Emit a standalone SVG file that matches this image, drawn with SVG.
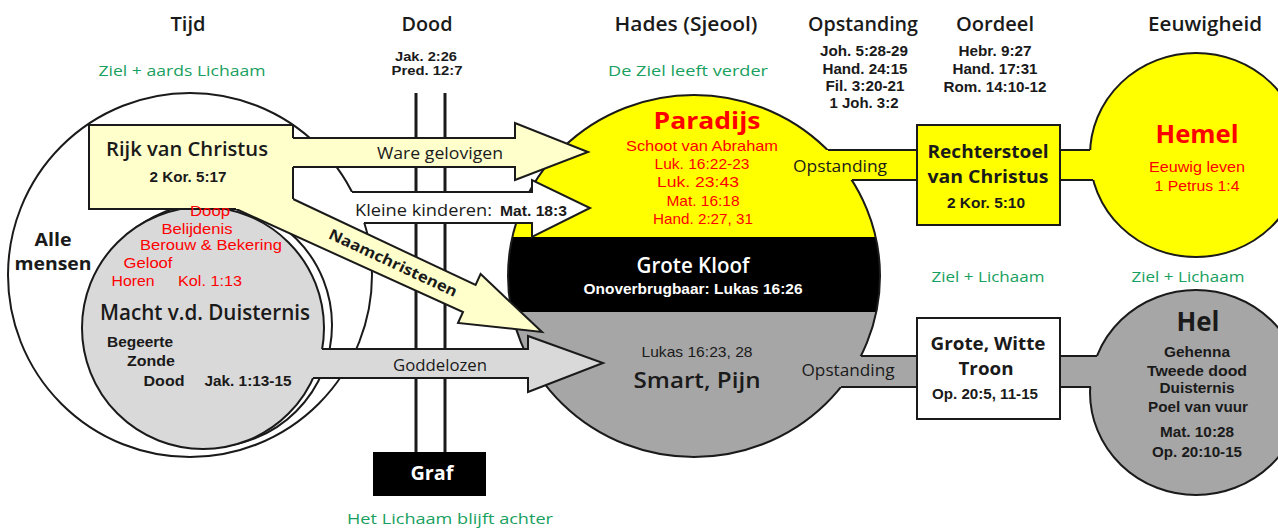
<svg xmlns="http://www.w3.org/2000/svg" width="1278" height="529" viewBox="0 0 1278 529">
<defs>
<style>
text{text-anchor:middle;fill:#1a1a1a}
.c{font-family:"Open Sans","Noto Sans",sans-serif}
.a{font-family:"Liberation Sans",Arial,sans-serif}
.b{font-weight:bold}
.sb{font-weight:600}
.r{fill:#ff0000}
.g{fill:#17a05e}
.w{fill:#ffffff}
.ln{fill:none;stroke:#1a1a1a;stroke-width:2}
.ol{stroke:#1a1a1a;stroke-width:2}
.st{text-anchor:start}
</style>
<clipPath id="hc"><ellipse cx="694" cy="276" rx="186" ry="181"/></clipPath>
</defs>
<rect width="1278" height="529" fill="#ffffff"/>

<g id="headers">
<text class="c sb" x="188" y="31" font-size="20" textLength="35" lengthAdjust="spacingAndGlyphs">Tijd</text>
<text class="c sb" x="427" y="31" font-size="20" textLength="51" lengthAdjust="spacingAndGlyphs">Dood</text>
<text class="c sb" x="686" y="31" font-size="20" textLength="143" lengthAdjust="spacingAndGlyphs">Hades (Sjeool)</text>
<text class="c sb" x="863" y="31" font-size="20" textLength="110" lengthAdjust="spacingAndGlyphs">Opstanding</text>
<text class="c sb" x="995" y="31" font-size="20" textLength="78" lengthAdjust="spacingAndGlyphs">Oordeel</text>
<text class="c sb" x="1205" y="31" font-size="20" textLength="114" lengthAdjust="spacingAndGlyphs">Eeuwigheid</text>
<text class="c g" x="182" y="76" font-size="15" textLength="167" lengthAdjust="spacingAndGlyphs">Ziel + aards Lichaam</text>
<text class="c g" x="688" y="76" font-size="15" textLength="160" lengthAdjust="spacingAndGlyphs">De Ziel leeft verder</text>
<text class="c g" x="988" y="282" font-size="15" textLength="113" lengthAdjust="spacingAndGlyphs">Ziel + Lichaam</text>
<text class="c g" x="1188" y="282" font-size="15" textLength="113" lengthAdjust="spacingAndGlyphs">Ziel + Lichaam</text>
<text class="c g" x="450" y="524" font-size="15" textLength="206" lengthAdjust="spacingAndGlyphs">Het Lichaam blijft achter</text>
<text class="a b" x="426" y="61" font-size="12" textLength="62" lengthAdjust="spacingAndGlyphs">Jak. 2:26</text>
<text class="a b" x="427" y="75" font-size="12" textLength="71" lengthAdjust="spacingAndGlyphs">Pred. 12:7</text>
<text class="a b" x="864" y="56" font-size="14" textLength="88" lengthAdjust="spacingAndGlyphs">Joh. 5:28-29</text>
<text class="a b" x="865" y="74" font-size="14" textLength="85" lengthAdjust="spacingAndGlyphs">Hand. 24:15</text>
<text class="a b" x="865" y="91" font-size="14" textLength="79" lengthAdjust="spacingAndGlyphs">Fil. 3:20-21</text>
<text class="a b" x="864" y="108" font-size="14" textLength="69" lengthAdjust="spacingAndGlyphs">1 Joh. 3:2</text>
<text class="a b" x="995" y="56" font-size="14" textLength="73" lengthAdjust="spacingAndGlyphs">Hebr. 9:27</text>
<text class="a b" x="995" y="74" font-size="14" textLength="85" lengthAdjust="spacingAndGlyphs">Hand. 17:31</text>
<text class="a b" x="995" y="92" font-size="14" textLength="103" lengthAdjust="spacingAndGlyphs">Rom. 14:10-12</text>
</g>

<g id="alle-mensen">
<circle cx="190" cy="275" r="182" fill="#ffffff" class="ol"/>
<text class="c b" x="53" y="246" font-size="18" textLength="37" lengthAdjust="spacingAndGlyphs">Alle</text>
<text class="c b" x="53" y="270" font-size="18" textLength="77" lengthAdjust="spacingAndGlyphs">mensen</text>
</g>

<g id="dood">
<line x1="416" y1="93" x2="416" y2="452" stroke="#1a1a1a" stroke-width="3"/>
<line x1="445" y1="93" x2="445" y2="452" stroke="#1a1a1a" stroke-width="3"/>
</g>

<g id="hades">
<g clip-path="url(#hc)">
<rect x="500" y="90" width="400" height="147" fill="#ffff00"/>
<rect x="500" y="237" width="400" height="75" fill="#000000"/>
<rect x="500" y="312" width="400" height="150" fill="#a6a6a6"/>
</g>
<ellipse cx="694" cy="276" rx="186" ry="181" fill="none" class="ol"/>
<text class="c b r" x="707" y="129" font-size="24" textLength="107" lengthAdjust="spacingAndGlyphs">Paradijs</text>
<text class="a r" x="702" y="151" font-size="15" textLength="152" lengthAdjust="spacingAndGlyphs">Schoot van Abraham</text>
<text class="a r" x="702" y="169" font-size="15" textLength="95" lengthAdjust="spacingAndGlyphs">Luk. 16:22-23</text>
<text class="a r" x="698" y="187" font-size="15" textLength="82" lengthAdjust="spacingAndGlyphs">Luk. 23:43</text>
<text class="a r" x="703" y="206" font-size="15" textLength="73" lengthAdjust="spacingAndGlyphs">Mat. 16:18</text>
<text class="a r" x="703" y="224" font-size="15" textLength="100" lengthAdjust="spacingAndGlyphs">Hand. 2:27, 31</text>
<text class="c sb w" x="693" y="273" font-size="21" textLength="113" lengthAdjust="spacingAndGlyphs">Grote Kloof</text>
<text class="a b w" x="693" y="294" font-size="15" textLength="219" lengthAdjust="spacingAndGlyphs">Onoverbrugbaar: Lukas 16:26</text>
<text class="a" x="697" y="357" font-size="15" textLength="111" lengthAdjust="spacingAndGlyphs">Lukas 16:23, 28</text>
<text class="c sb" x="697" y="388" font-size="22" textLength="127" lengthAdjust="spacingAndGlyphs">Smart, Pijn</text>
</g>

<g id="hemel">
<ellipse cx="1196" cy="155" rx="106" ry="102" fill="#ffff00" class="ol"/>
<text class="c b r" x="1197" y="143" font-size="25" textLength="83" lengthAdjust="spacingAndGlyphs">Hemel</text>
<text class="a r" x="1197" y="172" font-size="14" textLength="96" lengthAdjust="spacingAndGlyphs">Eeuwig leven</text>
<text class="a r" x="1197" y="191" font-size="14" textLength="85" lengthAdjust="spacingAndGlyphs">1 Petrus 1:4</text>
</g>

<g id="hel">
<ellipse cx="1196" cy="392.5" rx="106" ry="102.5" fill="#a6a6a6" class="ol"/>
<text class="c b" x="1198" y="331" font-size="26" textLength="43" lengthAdjust="spacingAndGlyphs">Hel</text>
<text class="a b" x="1197" y="357" font-size="14" textLength="66" lengthAdjust="spacingAndGlyphs">Gehenna</text>
<text class="a b" x="1197" y="376" font-size="14" textLength="100" lengthAdjust="spacingAndGlyphs">Tweede dood</text>
<text class="a b" x="1197" y="393" font-size="14" textLength="75" lengthAdjust="spacingAndGlyphs">Duisternis</text>
<text class="a b" x="1198" y="412" font-size="14" textLength="100" lengthAdjust="spacingAndGlyphs">Poel van vuur</text>
<text class="a b" x="1197" y="437" font-size="14" textLength="74" lengthAdjust="spacingAndGlyphs">Mat. 10:28</text>
<text class="a b" x="1197" y="457" font-size="14" textLength="90" lengthAdjust="spacingAndGlyphs">Op. 20:10-15</text>
</g>

<g id="macht">
<circle cx="210" cy="325" r="122" fill="#ffffff" class="ol"/>
<circle cx="203" cy="328" r="121" fill="#d9d9d9" class="ol"/>
<text class="c sb" x="205" y="320" font-size="21" textLength="210" lengthAdjust="spacingAndGlyphs">Macht v.d. Duisternis</text>
<text class="a b" x="140" y="347" font-size="14" textLength="66" lengthAdjust="spacingAndGlyphs">Begeerte</text>
<text class="a b" x="151" y="366" font-size="14" textLength="48" lengthAdjust="spacingAndGlyphs">Zonde</text>
<text class="a b" x="164" y="386" font-size="14" textLength="41" lengthAdjust="spacingAndGlyphs">Dood</text>
<text class="a b" x="248" y="386" font-size="14" textLength="87" lengthAdjust="spacingAndGlyphs">Jak. 1:13-15</text>
</g>

<g id="connectors">
<path d="M340,192 L532,192 L532,180 L590,208 L532,237 L532,223 L340,223 Z" fill="#ffffff"/>
<path class="ln" d="M352,192 L532,192 L532,180 L590,208 L532,237 L532,223 L364,223"/>
<path d="M300,349 L528,349 L528,336 L603,363 L528,392 L528,378 L300,378 Z" fill="#d9d9d9"/>
<path class="ln" d="M322,349 L528,349 L528,336 L603,363 L528,392 L528,378 L313,378"/>
<path d="M280,138 L515,138 L515,123 L588,152 L515,180 L515,167 L280,167 Z" fill="#ffffcc"/>
<path class="ln" d="M293,138 L515,138 L515,123 L588,152 L515,180 L515,167 L293,167"/>
<path d="M230,200 L293,195 L293,199 L475.6,285 L480.6,274 L542,332 L458,323 L463,312 L236,209 L230,209 Z" fill="#ffffcc"/>
<path class="ln" d="M293,199 L475.6,285 L480.6,274 L542,332 L458,323 L463,312 L236,209"/>
<rect x="800" y="150" width="125" height="30" fill="#ffff00"/>
<path class="ln" d="M828,150 L917,150 M852,180 L917,180"/>
<rect x="1055" y="150" width="55" height="30" fill="#ffff00"/>
<path class="ln" d="M1060,150 L1090,150 M1060,180 L1093,180"/>
<rect x="820" y="356" width="105" height="31" fill="#a6a6a6"/>
<path class="ln" d="M861,356 L917,356 M841,387 L917,387"/>
<rect x="1055" y="356" width="60" height="31" fill="#a6a6a6"/>
<path class="ln" d="M1060,356 L1097,356 M1060,387 L1091,387"/>
<text class="c" x="440" y="159" font-size="17" textLength="126" lengthAdjust="spacingAndGlyphs">Ware gelovigen</text>
<text class="c st" x="355" y="216" font-size="16" textLength="137" lengthAdjust="spacingAndGlyphs">Kleine  kinderen:</text>
<text class="a b st" x="500" y="216" font-size="14" textLength="67" lengthAdjust="spacingAndGlyphs">Mat. 18:3</text>
<text class="c b" transform="translate(393,263) rotate(25)" x="0" y="5" font-size="15" textLength="140" lengthAdjust="spacingAndGlyphs">Naamchristenen</text>
<text class="c" x="440" y="371" font-size="16" textLength="94" lengthAdjust="spacingAndGlyphs">Goddelozen</text>
<text class="c" x="840" y="172" font-size="16" textLength="94" lengthAdjust="spacingAndGlyphs">Opstanding</text>
<text class="c" x="848" y="376" font-size="16" textLength="93" lengthAdjust="spacingAndGlyphs">Opstanding</text>
</g>

<g id="rijk">
<rect x="89" y="125" width="204" height="84" fill="#ffffcc"/>
<path class="ln" d="M293,138 L293,125 L89,125 L89,209 L236,209 M293,167 L293,199"/>
<text class="c sb" x="187" y="156" font-size="20" textLength="162" lengthAdjust="spacingAndGlyphs">Rijk van Christus</text>
<text class="a b" x="188" y="182" font-size="14" textLength="77" lengthAdjust="spacingAndGlyphs">2 Kor. 5:17</text>
</g>

<g id="stappen">
<text class="a r" x="210" y="216" font-size="15" textLength="40" lengthAdjust="spacingAndGlyphs">Doop</text>
<text class="a r" x="197" y="234" font-size="15" textLength="71" lengthAdjust="spacingAndGlyphs">Belijdenis</text>
<text class="a r" x="211" y="250" font-size="15" textLength="142" lengthAdjust="spacingAndGlyphs">Berouw &amp; Bekering</text>
<text class="a r" x="148" y="268" font-size="15" textLength="49" lengthAdjust="spacingAndGlyphs">Geloof</text>
<text class="a r" x="133" y="286" font-size="15" textLength="43" lengthAdjust="spacingAndGlyphs">Horen</text>
<text class="a r" x="210" y="286" font-size="15" textLength="64" lengthAdjust="spacingAndGlyphs">Kol. 1:13</text>
</g>

<g id="rechterstoel">
<rect x="917" y="125" width="143" height="100" fill="#ffff00" class="ol"/>
<text class="c b" x="988" y="158" font-size="18" textLength="121" lengthAdjust="spacingAndGlyphs">Rechterstoel</text>
<text class="c b" x="988" y="183" font-size="18" textLength="121" lengthAdjust="spacingAndGlyphs">van Christus</text>
<text class="a b" x="986" y="208" font-size="14" textLength="78" lengthAdjust="spacingAndGlyphs">2 Kor. 5:10</text>
</g>

<g id="troon">
<rect x="917" y="318" width="143" height="101" fill="#ffffff" class="ol"/>
<text class="c b" x="988" y="350" font-size="18" textLength="115" lengthAdjust="spacingAndGlyphs">Grote, Witte</text>
<text class="c b" x="986" y="375" font-size="18" textLength="55" lengthAdjust="spacingAndGlyphs">Troon</text>
<text class="a b" x="985" y="399" font-size="14" textLength="106" lengthAdjust="spacingAndGlyphs">Op. 20:5, 11-15</text>
</g>

<g id="graf">
<rect x="373" y="452" width="113" height="44" fill="#000000"/>
<text class="c b w" x="432" y="480" font-size="19" textLength="43" lengthAdjust="spacingAndGlyphs">Graf</text>
</g>
</svg>
